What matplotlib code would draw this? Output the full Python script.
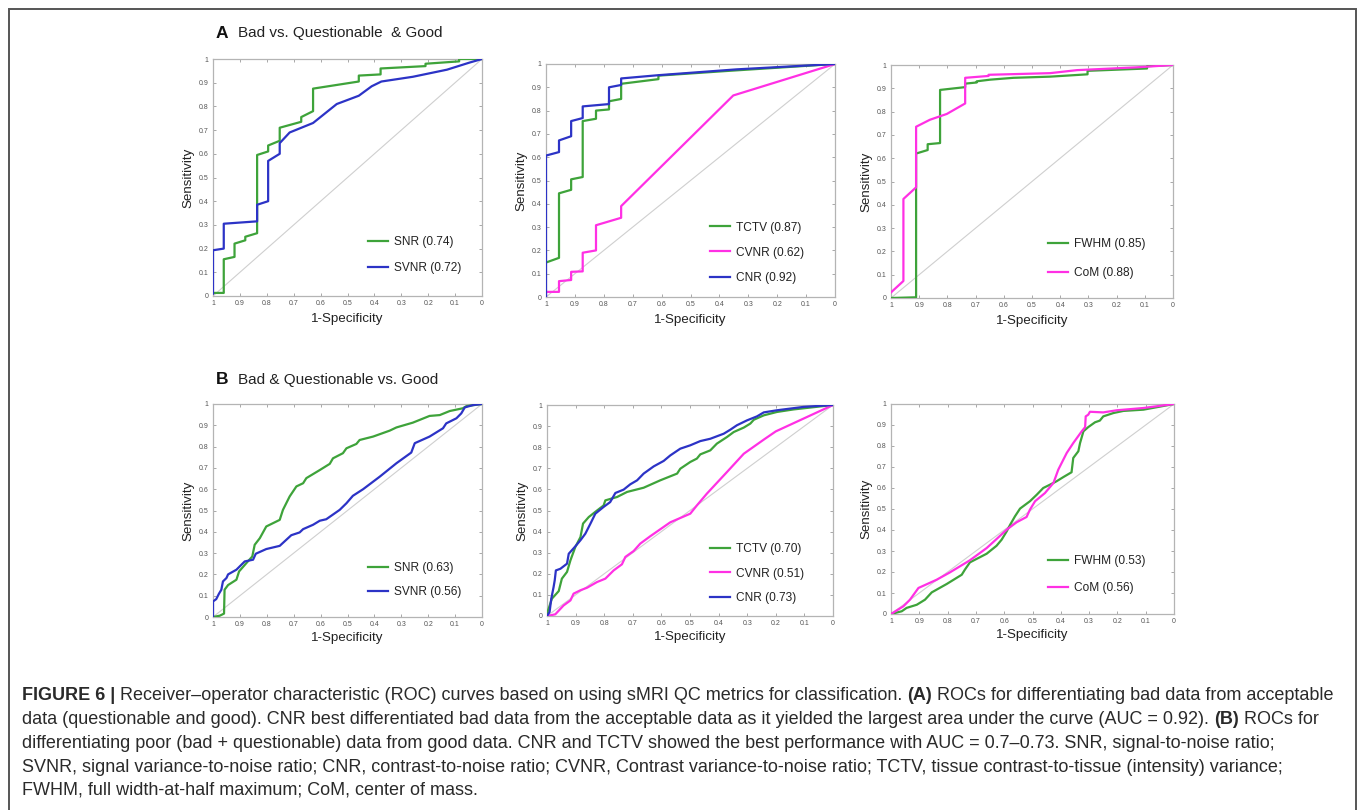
import matplotlib
matplotlib.use("Agg")
import matplotlib.pyplot as plt
from matplotlib.patches import Rectangle

plt.rcParams['font.family'] = ['Liberation Sans', 'DejaVu Sans']

W, H = 1357, 810

# ---------------- data (x = specificity axis value, y = sensitivity) -------------
a_snr_x = [1, 0.96, 0.96, 0.92, 0.92, 0.88, 0.88, 0.836, 0.836, 0.795, 0.795, 0.752, 0.752,
           0.672, 0.672, 0.628, 0.628, 0.458, 0.458, 0.377, 0.377, 0.21, 0.21, 0.085, 0.085, 0]
a_snr_y = [0.013, 0.013, 0.155, 0.165, 0.221, 0.235, 0.25, 0.265, 0.595, 0.61, 0.635, 0.655, 0.71,
           0.735, 0.755, 0.78, 0.875, 0.905, 0.93, 0.935, 0.96, 0.97, 0.98, 0.99, 1.0, 1.0]
a_svnr_x = [1, 1, 0.96, 0.96, 0.836, 0.836, 0.795, 0.795, 0.752, 0.752, 0.715, 0.628, 0.54,
            0.458, 0.41, 0.374, 0.257, 0.13, 0.046, 0]
a_svnr_y = [0.01, 0.193, 0.2, 0.305, 0.315, 0.385, 0.40, 0.57, 0.60, 0.645, 0.69, 0.73, 0.81,
            0.845, 0.885, 0.905, 0.925, 0.955, 0.985, 1.0]

a_tctv_x = [1, 0.955, 0.955, 0.913, 0.913, 0.873, 0.873, 0.827, 0.827, 0.782, 0.782, 0.74, 0.74,
            0.611, 0.611, 0.375, 0]
a_tctv_y = [0.148, 0.168, 0.445, 0.46, 0.505, 0.515, 0.755, 0.765, 0.80, 0.805, 0.84, 0.85, 0.915,
            0.935, 0.95, 0.97, 1.0]
a_cvnr_x = [1, 1, 0.955, 0.955, 0.913, 0.913, 0.873, 0.873, 0.827, 0.827, 0.74, 0.74, 0.352, 0]
a_cvnr_y = [0.0, 0.022, 0.022, 0.068, 0.073, 0.108, 0.11, 0.19, 0.2, 0.308, 0.34, 0.39, 0.865, 1.0]
a_cnr_x = [1, 1, 0.955, 0.955, 0.913, 0.913, 0.873, 0.873, 0.782, 0.782, 0.74, 0.74, 0.611, 0.34, 0]
a_cnr_y = [0.0, 0.607, 0.622, 0.672, 0.69, 0.755, 0.768, 0.818, 0.828, 0.9, 0.91, 0.938, 0.952,
           0.977, 1.0]

a_fwhm_x = [1, 0.911, 0.911, 0.87, 0.87, 0.826, 0.826, 0.737, 0.737, 0.696, 0.696, 0.649, 0.566,
            0.436, 0.303, 0.303, 0.092, 0.092, 0]
a_fwhm_y = [0.0, 0.003, 0.62, 0.635, 0.66, 0.665, 0.893, 0.905, 0.92, 0.925, 0.93, 0.937, 0.945,
            0.95, 0.96, 0.975, 0.985, 0.995, 1.0]
a_com_x = [1, 0.956, 0.956, 0.911, 0.911, 0.862, 0.802, 0.737, 0.737, 0.654, 0.654, 0.436, 0.34,
           0.128, 0]
a_com_y = [0.024, 0.073, 0.425, 0.475, 0.735, 0.765, 0.79, 0.835, 0.945, 0.953, 0.958, 0.965,
           0.978, 0.99, 1.0]

b_snr_x = [1, 0.975, 0.959, 0.957, 0.944, 0.913, 0.903, 0.876, 0.854, 0.845, 0.826, 0.802, 0.752,
           0.74, 0.715, 0.69, 0.665, 0.653, 0.603, 0.566, 0.554, 0.517, 0.504, 0.467, 0.455, 0.405,
           0.343, 0.318, 0.257, 0.195, 0.157, 0.12, 0.071, 0.058, 0]
b_snr_y = [0, 0.006, 0.016, 0.128, 0.15, 0.175, 0.214, 0.253, 0.284, 0.339, 0.37, 0.425, 0.456,
           0.503, 0.566, 0.613, 0.628, 0.652, 0.69, 0.719, 0.745, 0.769, 0.792, 0.8125, 0.831,
           0.847, 0.875, 0.89, 0.9125, 0.944, 0.948, 0.967, 0.98, 0.99, 1.0]
b_svnr_x = [1, 1, 0.988, 0.978, 0.969, 0.963, 0.95, 0.944, 0.913, 0.882, 0.851, 0.841, 0.802,
            0.752, 0.709, 0.678, 0.665, 0.628, 0.603, 0.579, 0.529, 0.504, 0.48, 0.442, 0.38,
            0.318, 0.263, 0.25, 0.195, 0.145, 0.133, 0.095, 0.077, 0.064, 0.033, 0]
b_svnr_y = [0, 0.073, 0.084, 0.109, 0.128, 0.167, 0.183, 0.2, 0.222, 0.261, 0.269, 0.297, 0.319,
            0.334, 0.384, 0.397, 0.4125, 0.433, 0.452, 0.459, 0.503, 0.534, 0.569, 0.6, 0.659,
            0.722, 0.772, 0.816, 0.847, 0.886, 0.909, 0.933, 0.956, 0.984, 0.995, 1.0]

b_tctv_x = [1, 0.998, 0.983, 0.959, 0.948, 0.93, 0.918, 0.901, 0.883, 0.874, 0.854, 0.825, 0.802,
            0.796, 0.755, 0.72, 0.662, 0.604, 0.545, 0.534, 0.499, 0.476, 0.464, 0.429, 0.406,
            0.371, 0.347, 0.312, 0.289, 0.277, 0.242, 0.196, 0.138, 0]
b_tctv_y = [0, 0.019, 0.082, 0.118, 0.177, 0.209, 0.264, 0.327, 0.374, 0.438, 0.469, 0.5, 0.524,
            0.548, 0.564, 0.588, 0.608, 0.643, 0.675, 0.698, 0.73, 0.746, 0.766, 0.785, 0.817,
            0.848, 0.872, 0.893, 0.912, 0.93, 0.951, 0.967, 0.979, 1.0]
b_cvnr_x = [1, 0.971, 0.942, 0.918, 0.907, 0.883, 0.86, 0.825, 0.796, 0.767, 0.738, 0.726, 0.697,
            0.674, 0.639, 0.604, 0.569, 0.499, 0.476, 0.441, 0.371, 0.312, 0.242, 0.2, 0]
b_cvnr_y = [0, 0.008, 0.05, 0.074, 0.106, 0.122, 0.134, 0.161, 0.177, 0.216, 0.245, 0.28, 0.308,
            0.343, 0.378, 0.411, 0.444, 0.485, 0.524, 0.58, 0.682, 0.769, 0.836, 0.875, 1.0]
b_cnr_x = [1, 0.991, 0.985, 0.977, 0.973, 0.969, 0.953, 0.93, 0.924, 0.901, 0.883, 0.866, 0.848,
           0.831, 0.802, 0.779, 0.761, 0.732, 0.709, 0.685, 0.662, 0.627, 0.592, 0.569, 0.534,
           0.499, 0.464, 0.429, 0.382, 0.359, 0.336, 0.301, 0.266, 0.242, 0.196, 0.103, 0]
b_cnr_y = [0, 0.019, 0.082, 0.137, 0.169, 0.216, 0.224, 0.248, 0.295, 0.33, 0.359, 0.39, 0.438,
           0.485, 0.517, 0.54, 0.583, 0.599, 0.624, 0.643, 0.675, 0.709, 0.735, 0.761, 0.793,
           0.809, 0.829, 0.84, 0.864, 0.883, 0.904, 0.927, 0.946, 0.965, 0.975, 0.991, 1.0]

b_fwhm_x = [1, 0.962, 0.945, 0.909, 0.88, 0.856, 0.803, 0.75, 0.739, 0.721, 0.662, 0.627, 0.609,
            0.591, 0.579, 0.562, 0.544, 0.509, 0.485, 0.462, 0.438, 0.415, 0.391, 0.362, 0.356,
            0.338, 0.332, 0.32, 0.303, 0.279, 0.262, 0.25, 0.214, 0.179, 0.108, 0]
b_fwhm_y = [0, 0.013, 0.029, 0.044, 0.068, 0.103, 0.143, 0.187, 0.211, 0.246, 0.287, 0.325, 0.354,
            0.394, 0.425, 0.465, 0.502, 0.537, 0.568, 0.6, 0.616, 0.632, 0.652, 0.675, 0.743,
            0.775, 0.814, 0.87, 0.89, 0.913, 0.921, 0.941, 0.957, 0.967, 0.973, 1.0]
b_com_x = [1, 0.956, 0.933, 0.903, 0.839, 0.792, 0.721, 0.662, 0.627, 0.591, 0.556, 0.521, 0.509,
           0.491, 0.456, 0.426, 0.409, 0.379, 0.356, 0.326, 0.314, 0.312, 0.303, 0.297, 0.25,
           0.203, 0.108, 0]
b_com_y = [0, 0.037, 0.068, 0.124, 0.163, 0.198, 0.256, 0.314, 0.357, 0.402, 0.437, 0.462, 0.497,
           0.537, 0.576, 0.624, 0.687, 0.767, 0.814, 0.87, 0.89, 0.941, 0.949, 0.963, 0.96,
           0.97, 0.981, 1.0]

auc_a = {"SNR": 0.74, "SVNR": 0.72, "TCTV": 0.87, "CVNR": 0.62, "CNR": 0.92, "FWHM": 0.85, "CoM": 0.88}
auc_b = {"SNR": 0.63, "SVNR": 0.56, "TCTV": 0.70, "CVNR": 0.51, "CNR": 0.73, "FWHM": 0.53, "CoM": 0.56}

tick_vals = [0, 0.1, 0.2, 0.3, 0.4, 0.5, 0.6, 0.7, 0.8, 0.9, 1]
tick_labels = ["0", "0.1", "0.2", "0.3", "0.4", "0.5", "0.6", "0.7", "0.8", "0.9", "1"]

GREEN = "#3ea33a"
BLUE = "#2c33c6"
MAGENTA = "#ff30e4"

# ---------------- figure ----------------
fig = plt.figure(figsize=(W / 100, H / 100), dpi=100)
fig.patch.set_facecolor("white")

# outer frame
fig.patches.append(Rectangle((8.5 / W, -0.02), (1355.5 - 8.5) / W, 1.02 - 8.5 / H,
                             transform=fig.transFigure, fill=False, edgecolor="#555555",
                             linewidth=1.4, zorder=0))

def px_axes(l, r, t, b):
    return fig.add_axes([l / W, 1 - b / H, (r - l) / W, (b - t) / H])

panels = [
    # (axes px box, series, legend handle-x px, legend rows y px, auc dict)
    ((213, 482, 59, 296), [("SNR", a_snr_x, a_snr_y, GREEN), ("SVNR", a_svnr_x, a_svnr_y, BLUE)],
     368, [242, 268], auc_a),
    ((546, 835, 64, 297), [("TCTV", a_tctv_x, a_tctv_y, GREEN), ("CVNR", a_cvnr_x, a_cvnr_y, MAGENTA),
                           ("CNR", a_cnr_x, a_cnr_y, BLUE)],
     710, [228, 252, 278], auc_a),
    ((891, 1173, 65, 298), [("FWHM", a_fwhm_x, a_fwhm_y, GREEN), ("CoM", a_com_x, a_com_y, MAGENTA)],
     1048, [244, 273], auc_a),
    ((213, 482, 404, 617), [("SNR", b_snr_x, b_snr_y, GREEN), ("SVNR", b_svnr_x, b_svnr_y, BLUE)],
     368, [568, 592], auc_b),
    ((547, 833, 405, 616), [("TCTV", b_tctv_x, b_tctv_y, GREEN), ("CVNR", b_cvnr_x, b_cvnr_y, MAGENTA),
                           ("CNR", b_cnr_x, b_cnr_y, BLUE)],
     710, [549, 574, 598], auc_b),
    ((891, 1174, 404, 614), [("FWHM", b_fwhm_x, b_fwhm_y, GREEN), ("CoM", b_com_x, b_com_y, MAGENTA)],
     1048, [561, 588], auc_b),
]

LEG_FS = 8.6
for (box, series, lx, rows, aucs) in panels:
    l, r, t, b = box
    ax = px_axes(l, r, t, b)
    ax.plot([1, 0], [0, 1], color="#cfcfcf", lw=0.8, zorder=1)
    for name, xs, ys, col in series:
        ax.plot(xs, ys, color=col, lw=1.6, label=f"{name} ({aucs[name]:.2f})", zorder=3)
    ax.set_xlim(1, 0)
    ax.set_ylim(0, 1)
    ax.set_xticks(tick_vals)
    ax.set_xticklabels(tick_labels)
    ax.set_yticks(tick_vals)
    ax.set_yticklabels(tick_labels)
    ax.tick_params(direction="in", length=2.5, width=0.6, colors="#9a9a9a",
                   labelcolor="#555555", labelsize=5, top=True, right=True, pad=3)
    for s in ax.spines.values():
        s.set_color("#b4b4b4")
        s.set_linewidth(0.9)
    hpx = b - t
    wpx = r - l
    ax.set_xlabel("1-Specificity", fontsize=9.6, color="#222222")
    ax.set_ylabel("Sensitivity", fontsize=9.6, color="#222222")
    ax.xaxis.set_label_coords(0.5, -(21 if hpx < 230 else 23) / hpx)
    ax.xaxis.label.set_va("center")
    ax.yaxis.set_label_coords(-25 / wpx, 0.5)
    ax.yaxis.label.set_va("center")
    pitch = (rows[-1] - rows[0]) / (len(rows) - 1)
    ymid = sum(rows) / len(rows)
    fs_px = LEG_FS * 100 / 72
    leg = ax.legend(loc="center left", bbox_to_anchor=(lx / W, 1 - ymid / H),
                    bbox_transform=fig.transFigure, frameon=False, fontsize=LEG_FS,
                    handlelength=1.7, handletextpad=0.45, borderpad=0, borderaxespad=0,
                    labelspacing=(pitch - fs_px * 1.0) / fs_px)
    for txt in leg.get_texts():
        txt.set_color("#222222")

# section titles
fig.text(216 / W, 1 - 33 / H, "A", fontsize=12.5, fontweight="bold", va="center", ha="left", color="#111111")
fig.text(238 / W, 1 - 33 / H, "Bad vs. Questionable  & Good", fontsize=11, va="center", ha="left", color="#222222")
fig.text(216 / W, 1 - 380 / H, "B", fontsize=12.5, fontweight="bold", va="center", ha="left", color="#111111")
fig.text(238 / W, 1 - 380 / H, "Bad & Questionable vs. Good", fontsize=11, va="center", ha="left", color="#222222")

# caption
caption_lines = [
    [("FIGURE 6 |", "bold"), (" Receiver\u2013operator characteristic (ROC) curves based on using sMRI QC metrics for classification. ", "normal"),
     ("(A)", "bold"), (" ROCs for differentiating bad data from acceptable", "normal")],
    [("data (questionable and good). CNR best differentiated bad data from the acceptable data as it yielded the largest area under the curve (AUC = 0.92). ", "normal"),
     ("(B)", "bold"), (" ROCs for", "normal")],
    [("differentiating poor (bad + questionable) data from good data. CNR and TCTV showed the best performance with AUC = 0.7\u20130.73. SNR, signal-to-noise ratio;", "normal")],
    [("SVNR, signal variance-to-noise ratio; CNR, contrast-to-noise ratio; CVNR, Contrast variance-to-noise ratio; TCTV, tissue contrast-to-tissue (intensity) variance;", "normal")],
    [("FWHM, full width-at-half maximum; CoM, center of mass.", "normal")],
]
caption_y = [695, 719, 743, 767, 790]
CAP_X = 22
renderer = fig.canvas.get_renderer()

def draw_line(segs, x0, y0, fs):
    x = x0
    arts = []
    for s, wgt in segs:
        t = fig.text(x / W, 1 - y0 / H, s, fontsize=fs, fontweight=wgt, va="center", ha="left",
                     color="#2a2a2a")
        bb = t.get_window_extent(renderer)
        x = bb.x1
        arts.append(t)
    return x - x0, arts

trial_fs = 12
wdt, arts = draw_line(caption_lines[0], CAP_X, caption_y[0], trial_fs)
for a in arts:
    a.remove()
cap_fs = trial_fs * (1340 - CAP_X) / wdt
for segs, yy in zip(caption_lines, caption_y):
    draw_line(segs, CAP_X, yy, cap_fs)

fig.savefig("out.png", dpi=100)
